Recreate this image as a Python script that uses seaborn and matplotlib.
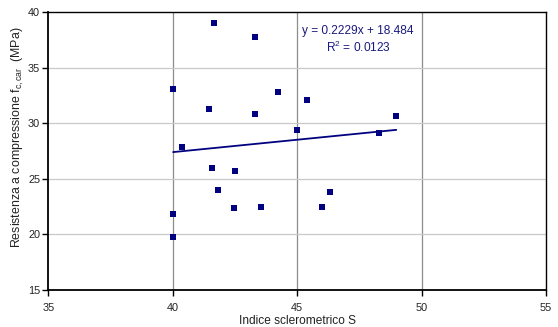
import numpy as np
import pandas as pd
import matplotlib
matplotlib.use("Agg")
import matplotlib.pyplot as plt
import seaborn as sns

# Data
indice_S = [41.67, 43.31, 40.01, 44.22, 45.40, 41.45, 43.31, 44.99, 40.36, 48.98,
            48.27, 41.57, 42.50, 41.81, 42.44, 43.55, 40.01, 40.01, 46.32, 45.98]
resistenza = [39.04, 37.75, 33.05, 32.78, 32.11, 31.28, 30.80, 29.42, 27.86, 30.65,
              29.12, 25.94, 25.67, 24.02, 22.37, 22.49, 21.86, 19.80, 23.79, 22.43]
trend_slope = 0.2229
trend_intercept = 18.484
r_squared = 0.0123
x_ticks = [35, 40, 45, 50, 55]
y_ticks = [15, 20, 25, 30, 35, 40]

sns.set_style("white")
plt.rcParams['font.family'] = ['Liberation Sans', 'DejaVu Sans']
plt.rcParams['mathtext.fontset'] = 'custom'
plt.rcParams['mathtext.rm'] = 'Liberation Sans'
plt.rcParams['mathtext.it'] = 'Liberation Sans:italic'

navy = '#000080'
df = pd.DataFrame({'S': indice_S, 'R': resistenza})
xs = np.array([min(indice_S), max(indice_S)])
trend = pd.DataFrame({'S': xs, 'R': trend_slope * xs + trend_intercept})

fig = plt.figure(figsize=(5.58, 3.27), dpi=100)
ax = fig.add_axes([0.0869, 0.1131, 0.8916, 0.8502])

sns.lineplot(data=trend, x='S', y='R', ax=ax, color=navy, linewidth=1.3, zorder=3)
sns.scatterplot(data=df, x='S', y='R', ax=ax, marker='s', s=14, color=navy,
                edgecolor=navy, linewidth=0, zorder=4)

ax.set_xlim(35, 55)
ax.set_ylim(15, 40)
ax.set_xticks(x_ticks)
ax.set_yticks(y_ticks)
for xv in x_ticks[1:-1]:
    ax.axvline(xv, color='#8c8c8c', linewidth=0.9, zorder=1)
for yv in y_ticks[1:-1]:
    ax.axhline(yv, color='#c8c8c8', linewidth=0.9, zorder=1)

for sp in ax.spines.values():
    sp.set_visible(True)
    sp.set_color('black')
    sp.set_linewidth(1.0)
ax.spines['bottom'].set_linewidth(1.3)
ax.spines['left'].set_linewidth(1.3)

ax.tick_params(axis='both', direction='out', length=4, width=1, colors='black',
               labelsize=7.8, labelcolor='#222222')
ax.tick_params(axis='x', bottom=True, pad=5)
ax.tick_params(axis='y', left=True, pad=2)

ax.set_xlabel('Indice sclerometrico S', fontsize=8.6, color='#222222', labelpad=2)
ax.set_ylabel(r'Resistenza a compressione f$_{\mathrm{c,car}}$  (MPa)', fontsize=8.9,
              color='#222222')
ax.yaxis.set_label_coords(-0.045, 0.549)

ax.text(47.45, 38.29, f'y = {trend_slope}x + {trend_intercept}', ha='center', va='center',
        fontsize=8.6, color='#1a1a80', zorder=5)
ax.text(47.45, 36.79, f'R$^2$ = {r_squared}', ha='center', va='center',
        fontsize=8.6, color='#1a1a80', zorder=5)

fig.savefig('out.png', dpi=100)
